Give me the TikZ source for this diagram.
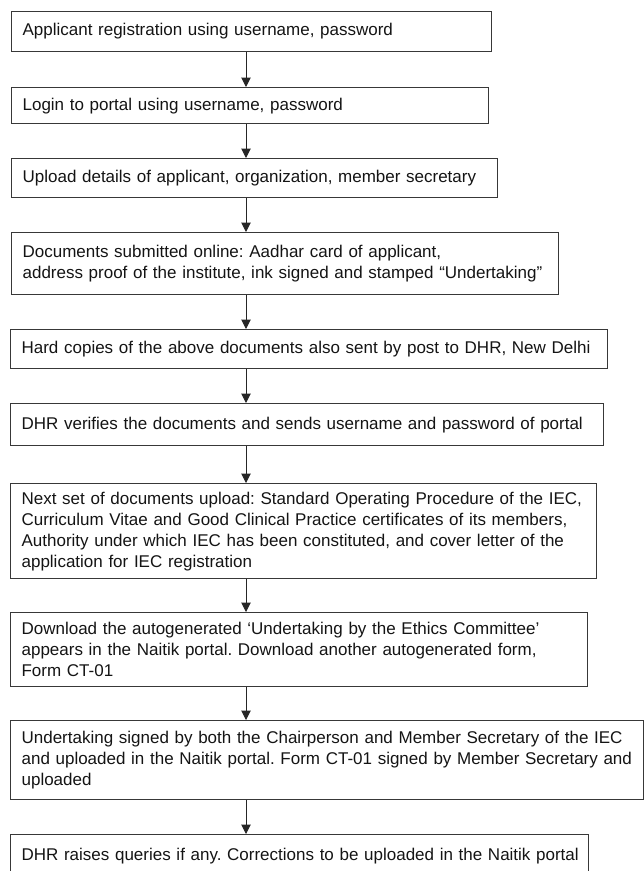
\documentclass[tikz,border=0pt]{standalone}
\usepackage{fontspec}
\setmainfont{Liberation Sans}
\usetikzlibrary{arrows.meta}
\frenchspacing

\begin{document}
\begin{tikzpicture}[x=1pt,y=-1pt,
    procbox/.style={draw=black!78,line width=1.2pt,anchor=north west,align=left,
      inner xsep=11pt,inner ysep=0pt,text=black!92,
      font=\fontsize{17}{21}\selectfont},
    flow/.style={-{Triangle[length=9.5pt,width=9.5pt]},line width=1pt,black!85}]
  \useasboundingbox (0,0) rectangle (644,871);
  \node[procbox,text width=458pt,minimum height=40pt] (reg) at (11,11)
    {Applicant registration using username, password};
  \node[procbox,text width=455pt,minimum height=36pt] (login) at (11,87)
    {Login to portal using username, password};
  \node[procbox,text width=464pt,minimum height=39pt] (details) at (11,158)
    {Upload details of applicant, organization, member secretary};
  \node[procbox,text width=525pt,minimum height=62pt] (online) at (11,232)
    {\mbox{Documents submitted online: Aadhar card of applicant,}\\
     \mbox{address proof of the institute, ink signed and stamped “Undertaking”}};
  \node[procbox,text width=575pt,minimum height=39pt] (post) at (10,329)
    {\mbox{Hard copies of the above documents also sent by post to DHR, New Delhi}};
  \node[procbox,text width=571pt,minimum height=42pt] (verify) at (10,403)
    {\mbox{DHR verifies the documents and sends username and password of portal}};
  \node[procbox,text width=564pt,minimum height=95pt] (nextset) at (10,483)
    {\mbox{Next set of documents upload: Standard Operating Procedure of the IEC,}\\
     \mbox{Curriculum Vitae and Good Clinical Practice certificates of its members,}\\
     \mbox{Authority under which IEC has been constituted, and cover letter of the}\\
     \mbox{application for IEC registration}};
  \node[procbox,text width=555pt,minimum height=74pt] (download) at (10,612)
    {\mbox{Download the autogenerated ‘Undertaking by the Ethics Committee’}\\
     \mbox{appears in the Naitik portal. Download another autogenerated form,}\\
     \mbox{Form CT-01}};
  \node[procbox,text width=611pt,minimum height=79pt] (signed) at (10,720)
    {\mbox{Undertaking signed by both the Chairperson and Member Secretary of the IEC}\\
     \mbox{and uploaded in the Naitik portal. Form CT-01 signed by Member Secretary and}\\
     \mbox{uploaded}};
  \node[procbox,text width=556pt,minimum height=42pt] (queries) at (10,834)
    {\mbox{DHR raises queries if any. Corrections to be uploaded in the Naitik portal}};
  % all arrows run down one vertical line
  \coordinate (axis) at (246,0);
  \foreach \a/\b in {reg/login,login/details,details/online,online/post,post/verify,
      verify/nextset,nextset/download,download/signed,signed/queries}
    \draw[flow] (\a.south -| axis) -- (\b.north -| axis);
\end{tikzpicture}
\end{document}
